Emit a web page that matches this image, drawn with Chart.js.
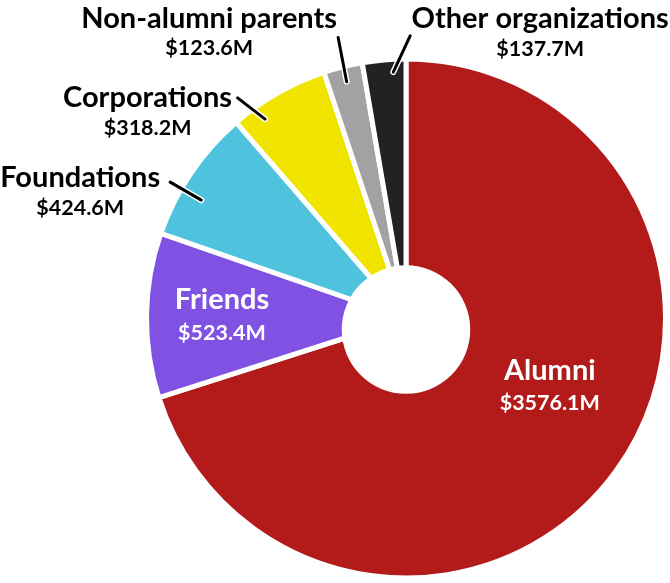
<!DOCTYPE html>
<html>
<head>
<meta charset="utf-8">
<script src="https://cdn.jsdelivr.net/npm/chart.js@4.4.1/dist/chart.umd.min.js"></script>
<style>
  html, body { margin: 0; padding: 0; background: #fff; }
  #wrap { position: relative; width: 670px; height: 583px; }
</style>
</head>
<body>
<div id="wrap"><canvas id="gifts"></canvas></div>
<script>
// Gift sources, in $ millions
const categories = ['Alumni', 'Friends', 'Foundations', 'Corporations', 'Non-alumni parents', 'Other organizations'];
const amounts = [3576.1, 523.4, 424.6, 318.2, 123.6, 137.7];
const sliceColors = ['#b31b1b', '#7f52e4', '#4fc3de', '#f1e500', '#a2a2a2', '#222222'];

// where each label sits, relative to its slice (angles in degrees from the slice middle)
const labelLayout = [
  { inside: true, angle: -10.6, r: 0.62 },
  { inside: true, angle: -0.2, r: 0.716 },
  { angleIn: -4.1, rIn: 0.92, angleOut: -4.1, rOut: 1.06, dx: -90, dy: -4 },
  { angleIn: -5.6, rIn: 0.95, angleOut: -7.7, rOut: 1.08, dx: -90, dy: 0 },
  { angleIn: 0, rIn: 0.95, angleOut: 0.5, rOut: 1.125, dx: -129, dy: -19 },
  { angleIn: 1.9, rIn: 0.96, angleOut: 5.7, rOut: 1.10, dx: 130, dy: -17 }
];

const BORDER = 5;
const FONT = 'Lato, "Open Sans", sans-serif';

function fmt(v) {
  return '$' + v.toFixed(1) + 'M';
}

const sliceLabels = {
  id: 'sliceLabels',
  afterDatasetsDraw(chart) {
    const ctx = chart.ctx;
    const arcs = chart.getDatasetMeta(0).data;
    if (!arcs.length) return;
    const cx = arcs[0].x, cy = arcs[0].y;
    const R = arcs[0].outerRadius - BORDER / 2;

    ctx.save();
    // the white hole sits a little below the centre
    ctx.fillStyle = '#fff';
    ctx.beginPath();
    ctx.arc(cx, cy + R * 0.043, R * 0.25, 0, Math.PI * 2);
    ctx.fill();

    const rad = d => d * Math.PI / 180;
    const at = (a, r) => ({ x: cx + r * Math.cos(a), y: cy + r * Math.sin(a) });

    ctx.textAlign = 'center';
    ctx.textBaseline = 'middle';

    arcs.forEach((arc, i) => {
      const lay = labelLayout[i];
      const mid = (arc.startAngle + arc.endAngle) / 2;
      if (lay.inside) {
        const p = at(mid + rad(lay.angle), R * lay.r);
        ctx.fillStyle = '#fff';
        ctx.font = '700 29px ' + FONT;
        ctx.fillText(categories[i], p.x, p.y - 17);
        ctx.font = '700 21.5px ' + FONT;
        ctx.fillText(fmt(amounts[i]), p.x, p.y + 16);
        return;
      }
      const p1 = at(mid + rad(lay.angleIn), R * lay.rIn);
      const p2 = at(mid + rad(lay.angleOut), R * lay.rOut);
      ctx.lineCap = 'round';
      ctx.strokeStyle = '#fff';
      ctx.lineWidth = 6;
      ctx.beginPath();
      ctx.moveTo(p1.x, p1.y);
      ctx.lineTo(p2.x, p2.y);
      ctx.stroke();
      ctx.strokeStyle = '#000';
      ctx.lineWidth = 3;
      ctx.beginPath();
      ctx.moveTo(p1.x, p1.y);
      ctx.lineTo(p2.x, p2.y);
      ctx.stroke();

      const tx = p2.x + lay.dx, ty = p2.y + lay.dy;
      ctx.fillStyle = '#000';
      ctx.font = '700 29px ' + FONT;
      ctx.fillText(categories[i], tx, ty);
      ctx.font = '700 21.5px ' + FONT;
      ctx.fillText(fmt(amounts[i]), tx, ty + 30);
    });
    ctx.restore();
  }
};

new Chart(document.getElementById('gifts'), {
  type: 'pie',
  data: {
    labels: categories,
    datasets: [{
      data: amounts,
      backgroundColor: sliceColors,
      borderColor: '#fff',
      borderWidth: BORDER,
      hoverOffset: 0
    }]
  },
  options: {
    responsive: true,
    maintainAspectRatio: false,
    animation: false,
    radius: 257 + BORDER / 2,
    layout: { padding: { left: 142, right: 0, top: 54, bottom: 0 } },
    plugins: {
      legend: { display: false },
      tooltip: { enabled: false }
    }
  },
  plugins: [sliceLabels]
});
</script>
</body>
</html>
